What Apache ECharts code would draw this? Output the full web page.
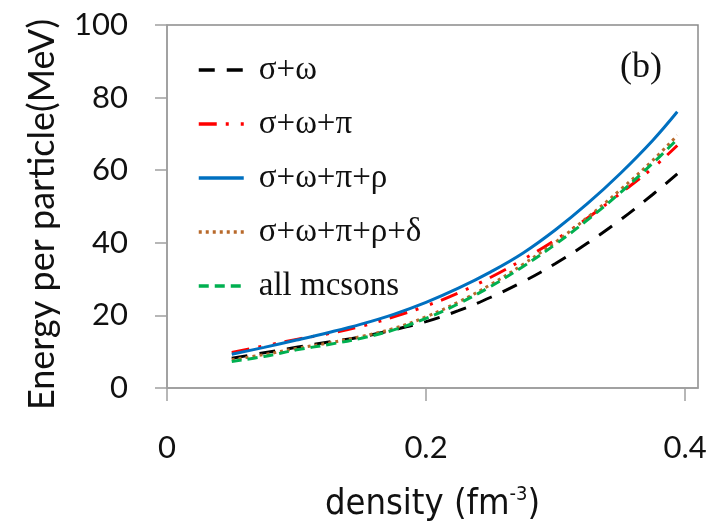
<!DOCTYPE html>
<html><head><meta charset="utf-8">
<script src="https://cdn.jsdelivr.net/npm/echarts@6/dist/echarts.min.js"></script>
<style>html,body{margin:0;padding:0;background:#fff}#c{width:710px;height:530px}</style>
</head><body><div id="c"></div><script>
// density (fm^-3)
const density = [0.05,0.075,0.1,0.125,0.15,0.175,0.2,0.225,0.25,0.275,0.3,0.325,0.35,0.375,0.394];
// Energy per particle (MeV)
const sigmaOmega           = [8.2,9.7,11.2,12.7,14.1,16.0,18.3,21.3,25.0,29.3,34.3,40.0,46.3,53.3,59.0];
const sigmaOmegaPi         = [9.8,11.6,13.4,15.0,17.0,19.6,22.6,26.2,30.5,35.4,40.8,46.9,53.6,60.6,66.8];
const sigmaOmegaPiRho      = [9.3,11.2,13.2,15.3,17.6,20.3,23.6,27.5,32.0,37.2,43.6,50.9,59.1,68.2,76.1];
const sigmaOmegaPiRhoDelta = [7.8,9.2,10.9,12.4,14.2,16.4,19.6,23.7,28.5,34.1,40.2,47.1,54.6,62.7,69.6];
const allMesons            = [7.3,8.7,10.5,12.0,13.7,16.0,19.2,23.2,28.0,33.5,39.6,46.4,53.8,61.9,68.5];
const seriesNames = ['σ+ω','σ+ω+π','σ+ω+π+ρ','σ+ω+π+ρ+δ','all mcsons'];
const xTicks = [0,0.2,0.4];

const numFont = 'Lato, "Open Sans", sans-serif';
const narrowFont = '"Liberation Sans Narrow", "DejaVu Sans Condensed", sans-serif';
const serifFont = '"Liberation Serif", "Times New Roman", serif';
const axisGray = '#a0a0a0';

function pts(arr){ return density.map((d,i)=>[d, arr[i]]); }
const styles = [
  {color:'#000000', type:[16,12]},
  {color:'#ff0000', type:[18,9,3,12,3,9]},
  {color:'#0070c0', type:'solid'},
  {color:'#b8692b', type:[3,4]},
  {color:'#00b050', type:[10,6]}
];
const dataSets = [sigmaOmega, sigmaOmegaPi, sigmaOmegaPiRho, sigmaOmegaPiRhoDelta, allMesons];

const chart = echarts.init(document.getElementById('c'), null, {renderer:'canvas'});
chart.setOption({
  animation:false,
  backgroundColor:'#ffffff',
  grid:{left:167, top:25, right:12, bottom:138, show:true, borderColor:'#8a8a8a', borderWidth:1.5, backgroundColor:'transparent'},
  xAxis:{
    type:'value', min:0, max:0.41,
    axisLine:{show:true, onZero:false, lineStyle:{color:axisGray, width:1.5}},
    axisTick:{show:true, customValues:xTicks, length:13, lineStyle:{color:axisGray, width:1.5}},
    axisLabel:{customValues:xTicks, margin:44, fontFamily:numFont, fontSize:31, color:'#111',
      formatter:v=> v===0 ? '0' : v.toFixed(1)},
    splitLine:{show:false},
    name:'density (fm{sup|-3})', nameLocation:'middle', nameGap:97,
    nameTextStyle:{fontFamily:narrowFont, fontSize:36, color:'#111', lineHeight:40,
      rich:{sup:{fontFamily:narrowFont, fontSize:20, color:'#111', verticalAlign:'top', lineHeight:40}}}
  },
  yAxis:{
    type:'value', min:0, max:100, interval:20,
    axisLine:{show:true, lineStyle:{color:axisGray, width:1.5}},
    axisTick:{show:true, length:12, lineStyle:{color:axisGray, width:1.5}},
    axisLabel:{margin:39, fontFamily:numFont, fontSize:31, color:'#111'},
    splitLine:{show:false},
    name:'Energy per particle(MeV)', nameLocation:'middle', nameRotate:90, nameGap:107,
    nameTextStyle:{fontFamily:numFont, fontSize:36, color:'#111', padding:[0,16,0,0]}
  },
  legend:{
    orient:'vertical', left:192, top:45, itemWidth:45, itemHeight:14, itemGap:14,
    data:seriesNames,
    lineStyle:{width:3.5},
    itemStyle:{opacity:0, color:'rgba(0,0,0,0)', borderWidth:0},
    textStyle:{fontFamily:serifFont, fontSize:33, color:'#111', lineHeight:40, padding:[0,0,0,10]}
  },
  graphic:[{type:'text', left:620, top:50, style:{text:'(b)', font:'36px "Liberation Serif", serif', fill:'#111'}}],
  series: dataSets.map((arr,i)=>({
    name:seriesNames[i], type:'line', data:pts(arr), symbol:'none', smooth:0.4,
    lineStyle:{color:styles[i].color, width:3, type:styles[i].type},
    itemStyle:{color:styles[i].color}
  }))
});
</script></body></html>
